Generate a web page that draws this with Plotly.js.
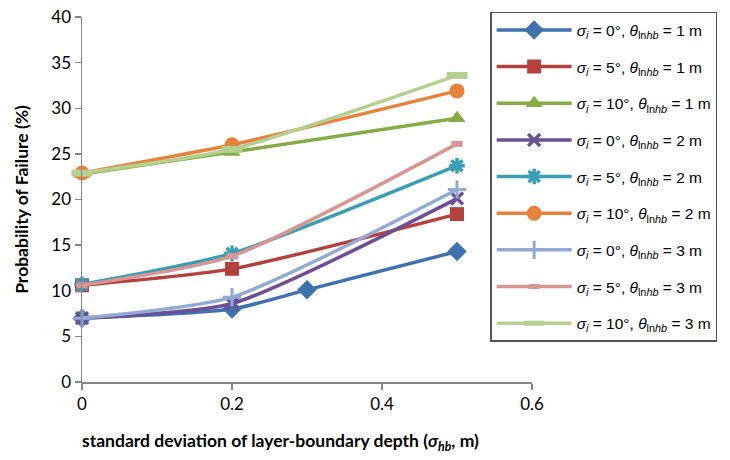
<!DOCTYPE html>
<html>
<head>
<meta charset="utf-8">
<script src="https://cdn.plot.ly/plotly-3.0.1.min.js"></script>
<style>html,body{margin:0;padding:0;background:#fff;}#chart{width:730px;height:460px;}</style>
</head>
<body>
<div id="chart"></div>
<script>
// standard deviation of layer-boundary depth (m)
const xA = [0, 0.2, 0.3, 0.5];
const xB = [0, 0.2, 0.5];

const names = [
  "<i>σ<sub>i</sub></i> = 0°, <i>θ</i><sub>ln<i>hb</i></sub> = 1 m",
  "<i>σ<sub>i</sub></i> = 5°, <i>θ</i><sub>ln<i>hb</i></sub> = 1 m",
  "<i>σ<sub>i</sub></i> = 10°, <i>θ</i><sub>ln<i>hb</i></sub> = 1 m",
  "<i>σ<sub>i</sub></i> = 0°, <i>θ</i><sub>ln<i>hb</i></sub> = 2 m",
  "<i>σ<sub>i</sub></i> = 5°, <i>θ</i><sub>ln<i>hb</i></sub> = 2 m",
  "<i>σ<sub>i</sub></i> = 10°, <i>θ</i><sub>ln<i>hb</i></sub> = 2 m",
  "<i>σ<sub>i</sub></i> = 0°, <i>θ</i><sub>ln<i>hb</i></sub> = 3 m",
  "<i>σ<sub>i</sub></i> = 5°, <i>θ</i><sub>ln<i>hb</i></sub> = 3 m",
  "<i>σ<sub>i</sub></i> = 10°, <i>θ</i><sub>ln<i>hb</i></sub> = 3 m"
];

const xTitle = "<b>standard deviation of layer-boundary depth (<i>σ<sub>hb</sub></i>, m)</b>";
const yTitle = "<b>Probability of Failure (%)</b>";
const xTickVals = [0, 0.2, 0.4, 0.6];
const xTickText = ["0", "0.2", "0.4", "0.6"];

// Probability of failure (%)
const s0_1 = [7.0, 8.0, 10.1, 14.3];
const s5_1 = [10.6, 12.4, 18.4];
const s10_1 = [22.8, 25.2, 28.9];
const s0_2 = [7.0, 8.6, 20.1];
const s5_2 = [10.7, 14.1, 23.7];
const s10_2 = [22.9, 26.0, 31.9];
const s0_3 = [7.0, 9.3, 21.1];
const s5_3 = [10.6, 13.8, 26.1];
const s10_3 = [22.9, 25.5, 33.6];

const series = [
  {x: xA, y: s0_1, c: "#3F71AE", sym: "diamond", size: 15, lw: 0},
  {x: xB, y: s5_1, c: "#B5413E", sym: "square", size: 14, lw: 0},
  {x: xB, y: s10_1, c: "#86AC44", sym: "triangle-up", size: 15, lw: 0},
  {x: xB, y: s0_2, c: "#6D4F96", sym: "x-thin-open", size: 12, lw: 3.5},
  {x: xB, y: s5_2, c: "#3A9EB6", sym: "asterisk-open", size: 13, lw: 3.5},
  {x: xB, y: s10_2, c: "#E8823A", sym: "circle", size: 15, lw: 0},
  {x: xB, y: s0_3, c: "#93A9D6", sym: "cross-thin-open", size: 13, lw: 3},
  {x: xB, y: s5_3, c: "#D99593", sym: "line-ew-open", size: 8, lw: 6},
  {x: xB, y: s10_3, c: "#B5CF90", sym: "line-ew-open", size: 15, lw: 7}
];

const traces = series.map((s, i) => ({
  type: "scatter",
  mode: "lines+markers",
  x: s.x, y: s.y,
  name: names[i],
  legendgroup: "g" + i,
  cliponaxis: false,
  line: {color: s.c, width: 3.5, shape: "spline", smoothing: 0.6},
  marker: {symbol: s.sym, size: s.size, color: s.c, line: {color: s.c, width: s.lw}}
}));

const titleFont = {family: "Lato, 'Open Sans', sans-serif", size: 17.5, color: "#000"};
const axisFont = {family: "Lato, 'Open Sans', sans-serif", size: 17, color: "#000"};

const layout = {
  width: 730, height: 460,
  margin: {l: 82, r: 198, t: 15, b: 78},
  paper_bgcolor: "#fff", plot_bgcolor: "#fff",
  showlegend: true,
  legend: {
    x: 0.907, xanchor: "left", y: 1.014, yanchor: "top",
    bordercolor: "#555", borderwidth: 1.5,
    font: {family: "'Liberation Sans', Arial, sans-serif", size: 15.5, color: "#000"},
    traceorder: "grouped", tracegroupgap: 13.5,
    itemwidth: 75, maxheight: 440
  },
  xaxis: {
    range: [0, 0.6],
    tickvals: xTickVals, ticktext: xTickText,
    showgrid: false, zeroline: false,
    showline: true, linecolor: "#868686", linewidth: 1.5,
    ticks: "outside", ticklen: 6, tickcolor: "#868686", tickwidth: 1.5,
    tickfont: axisFont
  },
  yaxis: {
    range: [0, 40], dtick: 5, tick0: 0,
    showgrid: false, zeroline: false,
    showline: true, linecolor: "#868686", linewidth: 1.5,
    ticks: "outside", ticklen: 6, tickcolor: "#868686", tickwidth: 1.5,
    tickfont: axisFont,
    title: {text: yTitle, font: titleFont, standoff: 18}
  },
  annotations: [{
    text: xTitle, xref: "paper", yref: "paper",
    x: 0.44, y: -0.165, xanchor: "center", yanchor: "middle",
    showarrow: false, font: titleFont
  }]
};

Plotly.newPlot("chart", traces, layout, {displayModeBar: false, staticPlot: true});
</script>
</body>
</html>
